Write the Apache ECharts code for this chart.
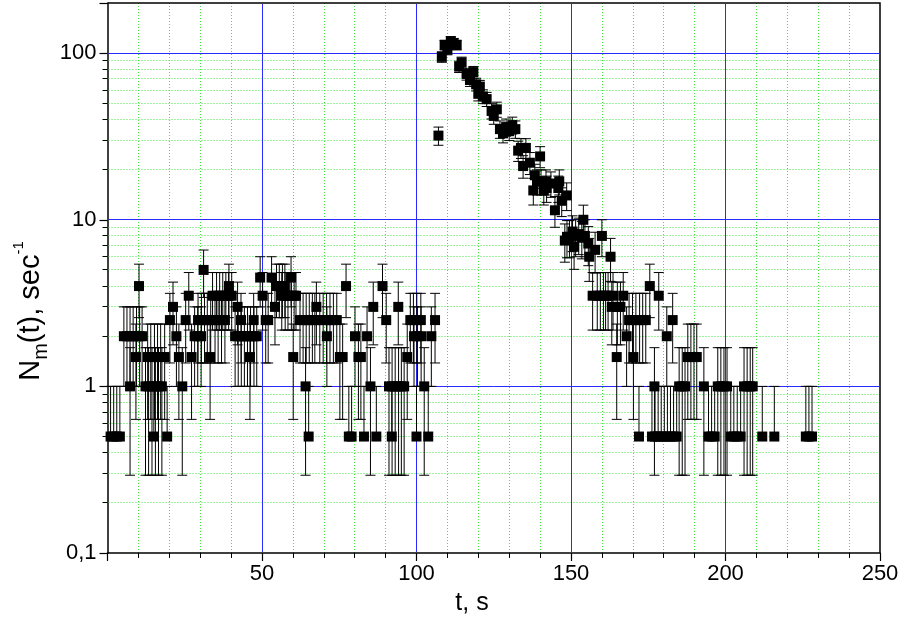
<!DOCTYPE html>
<html><head><meta charset="utf-8">
<script src="https://cdn.jsdelivr.net/npm/echarts/dist/echarts.min.js"></script>
<style>html,body{margin:0;padding:0;background:#fff}#c{width:902px;height:628px}</style>
</head><body><div id="c"></div>
<script>
// ---- data ----
const times = [
 1,2,3,4,5.3,6.3,7.3,7.3,8.3,9.2,9.4,10.2,10.4,11.2,
 12.3,13,13.3,14,14.4,15,15.2,15.5,16.2,16.5,17.2,17.6,18.5,19.3,
 20.2,21.2,22.3,23.1,24.2,25.3,26.3,27.2,28.2,29.2,29.3,30.3,30.4,31.1,31.4,32.3,33.2,33.4,34,
 34.8,35.3,35.8,36.3,36.9,37.3,38,38.3,39.2,39.3,40.2,
 41.3,42.1,42.3,43.2,43.3,44.3,45.3,46.1,46.3,47.3,47.4,48.3,
 49.4,50.2,51.2,52,53.1,54.2,54.7,55.6,56.4,56.6,57.4,57.5,58.4,59.4,59.5,60.1,60.4,61,
 62.3,63.3,64.1,64.3,65.1,65.3,66.3,67.1,67.6,
 68.7,69.8,70.9,71,72,73.1,74.2,75.2,76.1,77.2,78.1,79,80.1,81.2,82,83,84,85.1,86,87,89,90.2,
 91.1,92,92.1,93.1,94.1,94.2,95.1,96,97,98,99,99.2,100,100.1,100.3,101.4,101.5,102.5,103.8,104.8,106,
 107.1,108.2,109.1,110,111.1,112,113,113.8,114.6,116.2,117.3,118.4,119.3,120,120.5,121.5,122.7,124.3,125,126,
 127,128,129,130,131,132,132.9,133.8,134.5,135.4,136.7,137.8,138.3,139,140,140.3,141.2,141.9,142.1,143.5,
 144.8,145.9,146.2,147,148,148.6,148.7,149.5,150.5,151,151.5,152.5,153.5,154,154.5,155.6,155.9,157,157.8,158.5,
 159.5,160,160.5,161.2,162,162.8,163.2,163.6,164.8,165,166,166.9,168,168.8,169.9,170.2,171,172,172.2,173.2,
 174.2,175.5,176.2,177,177.2,178.2,178.4,179.2,180.2,181,181.2,182.2,182.9,183.2,184.2,185,186,186.9,
 187.8,188.8,189.8,190.7,193,194.5,195.5,196.5,197.5,198.5,199.5,200.5,201.7,202.7,203.8,204.9,
 206,207,208,208.8,211.9,215.8,226,227,228
];
const rates = [
 0.5,0.5,0.5,0.5,2,2,2,1,2,1.5,2,4,2,2,
 1,1.5,1,1.5,1,0.5,1.5,1,1.5,1,1.5,1,1.5,0.5,
 2.5,3,2,1.5,1,2.5,3.5,1.5,2,2,2.5,2,2.5,5,2.5,2.5,1.5,2.5,3.5,
 2.5,3.5,2.5,3.5,2.5,3.5,2.5,3.5,3.5,4,3.5,
 2,3,2,2.5,2,2,2,1.5,2,2.5,2,2,
 4.5,3.5,2.5,2.5,4.5,3,4,4,3.5,4,4,3.5,3.5,4.5,3.5,1.5,3.5,3.5,
 2.5,2.5,1,2.5,0.5,2.5,2.5,2.5,3,
 2.5,2.5,2.5,2,2.5,2.5,2.5,1.5,1.5,4,0.5,0.5,2,1.5,1.5,0.5,2,1,3,0.5,4,2.5,
 1,0.5,1,1,3,1,1,1,1.5,2.5,2.5,2,0.5,2.5,2,2.5,2,1,0.5,2,2.5,
 32,95,112,105,118,115,112,83,88,75,69,77,65,57,63,55,53,45,42,46,
 35,33,36,34,37,35,26,27,21,27,22,15,18.5,17,24,17,15,17,15.5,16.5,
 11.4,15.5,17,13,7.5,14,7.9,7.9,8.5,6.9,8,8.2,7.8,10,8,7.2,6,3.5,6.6,3.5,
 3.5,8,3.5,3.5,3.5,6,3,3.5,1.5,3,3,3.5,2,2.5,2.5,1.5,2.5,0.5,2.5,2.5,
 2.5,4,0.5,1,0.5,0.5,3.5,0.5,0.5,2,0.5,0.5,2.5,0.5,0.5,1,1,1,
 1.5,1.5,1.5,1.5,1,0.5,0.5,0.5,1,1,1,1,0.5,0.5,0.5,0.5,
 1,1,1,1,0.5,0.5,0.5,0.5,0.5
];
const binWidth = 2;            // s, counting interval: error = sqrt(counts)/binWidth
const xTickLabels = [50,100,150,200,250];
const xGridMajor = [50,100,150,200];
const yGridMajor = [1,10,100];
const yMinorValues = [0.2,0.3,0.4,0.5,0.6,0.7,0.8,0.9,2,3,4,5,6,7,8,9,20,30,40,50,60,70,80,90];
const X_MIN = 0, X_MAX = 250, Y_MIN = 0.1, Y_MAX = 200;

// ---- build ----
const pts = times.map((t,i)=>[t, rates[i]]);
const errData = times.map((t,i)=>{
  const v = rates[i];
  const s = Math.sqrt(v*binWidth)/binWidth;
  return [t, v, v - s, v + s];
});
const snap = p => Math.round(p - 0.5) + 0.5;
const FONT = '"Liberation Sans", Arial, sans-serif';
const BLUE = '#2a2aff', GREEN = '#3fe43f';
const chart = echarts.init(document.getElementById('c'), null, {renderer:'canvas'});
const option = {
  animation:false,
  backgroundColor:'#fff',
  grid:{left:107.5, right:22, top:3, bottom:75, containLabel:false, outerBoundsMode:'none'},
  xAxis:{
    type:'value', min:X_MIN, max:X_MAX, interval:50, position:'bottom',
    axisLine:{show:true, onZero:false, lineStyle:{color:'#000', width:1.5}},
    axisTick:{show:true, inside:false, length:8, lineStyle:{color:'#000', width:1.2}},
    minorTick:{show:true, splitNumber:5, length:5, lineStyle:{color:'#000', width:1}},
    splitLine:{show:false},
    minorSplitLine:{show:true, lineStyle:{color:GREEN, width:1, type:[1,2]}},
    axisLabel:{show:true, margin:10, color:'#000', fontSize:22, fontFamily:FONT,
      formatter:v=> xTickLabels.indexOf(v)>=0 ? String(v) : ''}
  },
  yAxis:{
    type:'log', logBase:10, min:Y_MIN, max:Y_MAX, position:'left',
    axisLine:{show:true, onZero:false, lineStyle:{color:'#000', width:1.5}},
    axisTick:{show:true, inside:false, length:8, lineStyle:{color:'#000', width:1.2}},
    splitLine:{show:false},
    axisLabel:{show:true, margin:11, color:'#000', fontSize:22, fontFamily:FONT,
      formatter:v=>{
        const l = Math.log10(v);
        if (Math.abs(l-Math.round(l))>1e-6) return '';
        return v<1 ? String(v).replace('.',',') : String(Math.round(v));
      }}
  },
  graphic:[
    {type:'text', x:472, y:603, style:{text:'t, s', fill:'#000', font:'25px '+FONT, align:'center', verticalAlign:'middle'}},
    {type:'text', x:31, y:311, rotation:Math.PI/2,
      style:{text:'{b|N}{s|m}{b|(t), sec}{p|-1}', fill:'#000', align:'center', verticalAlign:'middle',
        rich:{
          b:{fontSize:29, fontFamily:FONT, lineHeight:40, verticalAlign:'middle', fill:'#000'},
          s:{fontSize:20, fontFamily:FONT, lineHeight:20, verticalAlign:'bottom', fill:'#000'},
          p:{fontSize:15, fontFamily:FONT, lineHeight:15, verticalAlign:'top', fill:'#000'}
        }}}
  ],
  series:[
    {
      // y minor dotted grid + minor ticks (log axis minor ticks at 2..9 x decade)
      type:'custom', name:'yMinor', silent:true, z:1,
      data: yMinorValues.map(v=>[X_MIN, v]),
      encode:{x:0, y:1},
      renderItem:(params, api)=>{
        const v = api.value(1);
        const p0 = api.coord([X_MIN, v]), p1 = api.coord([X_MAX, v]);
        const y = snap(p0[1]);
        return {type:'group', children:[
          {type:'line', shape:{x1:p0[0]+1, y1:y, x2:p1[0]-1, y2:y},
            style:{stroke:GREEN, lineWidth:1, lineDash:[1,2]}},
          {type:'line', shape:{x1:p0[0]-5, y1:y, x2:p0[0], y2:y},
            style:{stroke:'#000', lineWidth:1}}
        ]};
      }
    },
    {
      // major y grid (blue) at decades
      type:'custom', name:'yMajor', silent:true, z:2,
      data: yGridMajor.map(v=>[X_MIN, v]),
      encode:{x:0, y:1},
      renderItem:(params, api)=>{
        const v = api.value(1);
        const p0 = api.coord([X_MIN, v]), p1 = api.coord([X_MAX, v]);
        const y = snap(p0[1]);
        return {type:'line', shape:{x1:p0[0]+1, y1:y, x2:p1[0]-1, y2:y},
            style:{stroke:BLUE, lineWidth:1}};
      }
    },
    {
      // major x grid (blue)
      type:'custom', name:'xMajor', silent:true, z:2,
      data: xGridMajor.map(t=>[t, Y_MIN]),
      encode:{x:0, y:1},
      renderItem:(params, api)=>{
        const t = api.value(0);
        const p0 = api.coord([t, Y_MIN]), p1 = api.coord([t, Y_MAX]);
        const x = snap(p0[0]);
        return {type:'line', shape:{x1:x, y1:p0[1]-1, x2:x, y2:p1[1]+1},
            style:{stroke:BLUE, lineWidth:1}};
      }
    },
    {
      // frame: top and right edges
      type:'custom', name:'frame', silent:true, z:6,
      data: [[X_MAX, Y_MAX]],
      encode:{x:0, y:1},
      renderItem:(params, api)=>{
        const tl = api.coord([X_MIN, Y_MAX]), tr = api.coord([X_MAX, Y_MAX]), br = api.coord([X_MAX, Y_MIN]);
        return {type:'polyline', shape:{points:[tl, tr, br]}, style:{stroke:'#000', lineWidth:1.5, fill:null}};
      }
    },
    {
      type:'custom', name:'errors', silent:true, z:3,
      data: errData, encode:{x:0, y:1},
      renderItem:(params, api)=>{
        const t = api.value(0), v = api.value(1), lo = api.value(2), hi = api.value(3);
        const pc = api.coord([t, v]);
        const pt = api.coord([t, hi]);
        const cap = 5;
        const ch = [];
        let yb = pc[1];
        if (lo > 0) {
          const pb = api.coord([t, Math.max(lo, Y_MIN)]);
          yb = pb[1];
          if (lo >= Y_MIN) ch.push({type:'line', shape:{x1:pb[0]-cap, y1:yb, x2:pb[0]+cap, y2:yb}, style:{stroke:'#000', lineWidth:1}});
        }
        ch.push({type:'line', shape:{x1:pt[0], y1:pt[1], x2:pt[0], y2:yb}, style:{stroke:'#000', lineWidth:1}});
        ch.push({type:'line', shape:{x1:pt[0]-cap, y1:pt[1], x2:pt[0]+cap, y2:pt[1]}, style:{stroke:'#000', lineWidth:1}});
        return {type:'group', children:ch};
      }
    },
    {
      type:'scatter', name:'Nm', z:4,
      symbol:'rect', symbolSize:10, itemStyle:{color:'#000', opacity:1},
      emphasis:{disabled:true},
      data: pts
    }
  ]
};
chart.setOption(option);
</script></body></html>
